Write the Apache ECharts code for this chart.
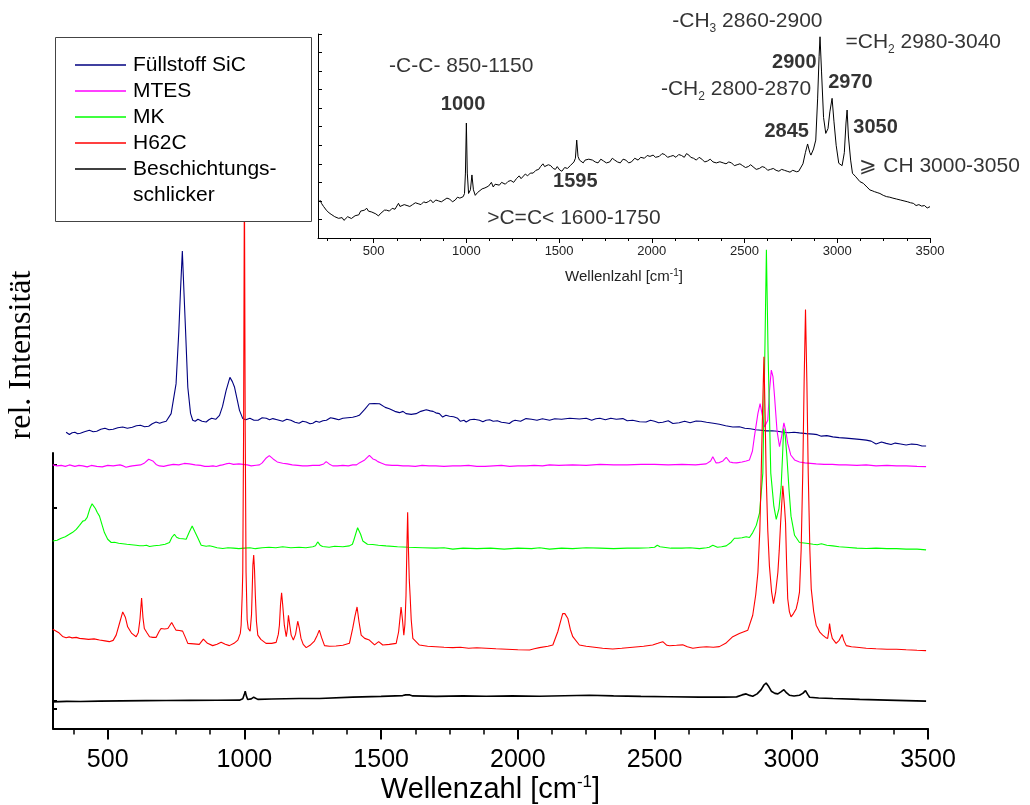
<!DOCTYPE html>
<html><head><meta charset="utf-8">
<script src="https://cdn.jsdelivr.net/npm/echarts@6/dist/echarts.min.js"></script>
<style>html,body{margin:0;padding:0;background:#fff}#c{width:1030px;height:805px}</style>
</head><body><div id="c"></div>
<script>
// ---------------- DATA ----------------
const seriesNames = ['Füllstoff SiC', 'MTES', 'MK', 'H62C', 'Beschichtungsschlicker'];

// main plot: [wavenumber cm^-1, rel. intensity (offset stacked)]
const sicData = [[348,299],[360,296.7],[370,298.5],[380,299],[390,297.5],[400,298],[415,299.5],[433,301],[447,299.5],[460,300],[475,302],[490,303],[505,301.5],[520,302],[537,303.5],[555,304.3],[572,303],[590,304],[605,305.5],[620,306],[635,304.5],[650,305],[663,307.5],[677,309.3],[690,308],[700,309],[714,310],[732,317.7],[750,347.7],[760,400],[766,440],[773,481.7],[779,440],[785,400],[793,344.3],[803,318],[811,311],[820,310],[830,312],[845,310],[860,309.3],[870,311.5],[880,313],[895,312],[909,316],[920,325],[933,341],[947,354.3],[956,350],[964,344.3],[975,330],[982,321],[994,312.7],[1005,311.5],[1020,313],[1035,311],[1050,311],[1065,313.5],[1080,313],[1092,311.5],[1104,312.7],[1120,311.5],[1140,310],[1155,312],[1170,311],[1185,309],[1200,308],[1213,310],[1226,309.3],[1240,307.5],[1250,308],[1262,310],[1274,309],[1287,310.5],[1300,311],[1315,313.5],[1330,312.7],[1345,311.5],[1360,313],[1378,313.5],[1396,314],[1410,315],[1420,316],[1440,322],[1457,327.7],[1475,328],[1494,327.7],[1515,324],[1530,322.7],[1550,320],[1567,318.7],[1580,320],[1591,317.7],[1610,317],[1628,317.7],[1645,320],[1665,321.7],[1680,320.5],[1690,320],[1700,318.5],[1713,317.7],[1725,314.3],[1737,316],[1750,315],[1765,314.5],[1780,313],[1790,310],[1795,308],[1803,311],[1811,309.3],[1825,311.5],[1840,312],[1860,311],[1872,309.5],[1884,311],[1897,311.5],[1910,310],[1925,310.5],[1940,309],[1955,308.5],[1969,307.7],[1980,310],[1990,311],[2010,310],[2030,312.7],[2050,312],[2070,311],[2090,312.5],[2116,311],[2135,312.5],[2160,312],[2190,313],[2225,312.3],[2250,313],[2270,311],[2285,312.5],[2300,313],[2320,311.5],[2340,313],[2360,312],[2384,312.7],[2400,310.5],[2420,311],[2445,309.5],[2469,309.3],[2485,311],[2500,310],[2515,308.5],[2530,309],[2550,310.5],[2567,307.7],[2590,308.5],[2610,310],[2630,308.5],[2652,310.3],[2670,310],[2690,309],[2715,308],[2737,307],[2760,305.5],[2786,304.3],[2810,304.5],[2830,303],[2850,302.5],[2870,301.5],[2890,301],[2908,300.3],[2930,300.5],[2950,300],[2970,299],[2990,298.5],[3010,299],[3030,298.3],[3055,297.5],[3080,297],[3095,296.5],[3110,295],[3130,295.5],[3152,294.3],[3175,293.5],[3200,293],[3220,292.5],[3240,292],[3258,291.5],[3274,291],[3292,290],[3310,287],[3330,289],[3347,287.7],[3365,286.5],[3380,288],[3400,287],[3420,286],[3440,287],[3460,286.5],[3478,285],[3493,285]];

const mtesData = [[299,266],[315,265],[330,265.5],[345,264.5],[360,266],[380,264.5],[395,265.5],[409,265],[425,264],[440,265.5],[460,264.5],[480,264],[500,265.5],[520,265],[545,266],[557,265],[567,263.7],[580,264.5],[590,265],[605,265.5],[620,266],[635,268],[650,271.7],[665,270],[677,266.5],[689,265],[705,264.5],[720,265.5],[740,266.5],[760,266],[780,267.5],[799,267],[820,266],[840,265.5],[855,264.5],[870,264.5],[885,265],[897,264.3],[910,265.5],[920,266],[932,267],[945,267.7],[960,266.5],[980,267],[995,266.5],[1010,266],[1025,265],[1043,265.7],[1055,266],[1065,268],[1080,273],[1091,275.3],[1105,272],[1120,269],[1140,267.7],[1157,267],[1175,266],[1195,265.5],[1213,265],[1230,265],[1250,265.5],[1274,265.5],[1290,267],[1299,269.3],[1310,267],[1323,265],[1340,265],[1360,265.5],[1380,265],[1396,266],[1410,266],[1420,268],[1440,271],[1457,275.7],[1470,272],[1480,271],[1488,269.3],[1500,268],[1518,266],[1540,265.5],[1560,265.5],[1580,265],[1600,265],[1625,264.5],[1650,265.5],[1675,265],[1700,265],[1730,264.5],[1762,265],[1790,265],[1820,265.5],[1850,264.5],[1880,264.5],[1910,265],[1940,265.5],[1970,264.5],[2000,265],[2030,265],[2060,265.5],[2090,265],[2116,266],[2150,265.5],[2200,266],[2250,265.5],[2300,266.5],[2350,266],[2400,266],[2450,266.5],[2500,266.5],[2550,266],[2600,266.5],[2650,266],[2689,267],[2705,270],[2713,274.3],[2725,268],[2737,268.3],[2750,270],[2762,273.7],[2775,269],[2786,268.3],[2800,268],[2820,269],[2835,270],[2847,271],[2858,280],[2865,294.3],[2878,318],[2886,327.7],[2895,315],[2902,304.3],[2908,306],[2914,311],[2920,340],[2927,361.7],[2933,355],[2939,334.3],[2948,300],[2957,284.3],[2965,295],[2973,308.3],[2980,300],[2987,287.7],[2998,276],[3012,271],[3030,269],[3050,268],[3070,267.5],[3091,267],[3120,266.5],[3150,266.5],[3175,266],[3200,266],[3240,265.5],[3274,266],[3310,265],[3350,265.5],[3385,265],[3420,265],[3460,264.5],[3493,264.3]];

const mkData = [[299,189.3],[315,190],[330,192],[345,193.5],[360,196],[372,198],[385,201],[397,205],[409,209.3],[417,210],[425,213],[435,222],[443,226.7],[455,222],[462,218],[470,214.3],[480,205],[488,197.7],[500,191],[513,187.7],[525,188],[540,187],[555,186.5],[570,186],[587,185.5],[604,185],[617,184.5],[630,184.5],[642,185],[653,183.7],[670,184.5],[690,185],[710,186],[726,187.7],[735,193],[744,196],[752,193],[762,191.7],[775,191.5],[787,191],[798,198],[809,204.3],[818,199],[829,192.7],[842,185],[860,184],[872,184.5],[884,183.7],[900,182.5],[921,181.7],[940,182.5],[960,182],[980,181.5],[1000,182],[1020,182.5],[1040,181.5],[1065,182.5],[1090,183],[1115,182.5],[1140,183.5],[1170,182.5],[1200,183],[1225,182.5],[1250,183.5],[1260,184.5],[1268,188.3],[1277,185],[1286,183.7],[1310,183],[1330,184],[1360,183.5],[1384,184.3],[1395,186],[1400,190],[1414,202.7],[1425,196],[1433,189.3],[1450,186],[1469,185.7],[1490,185],[1518,184.3],[1560,183.5],[1600,183],[1650,182.5],[1700,182],[1730,182.5],[1762,181],[1800,182],[1850,181.5],[1900,182],[1950,181],[2000,182],[2050,181.5],[2080,182.5],[2116,181],[2160,182],[2200,181.5],[2250,182.5],[2300,182],[2350,181.5],[2400,182],[2440,182],[2480,182.5],[2500,183],[2510,185],[2520,183.5],[2525,182.5],[2560,182],[2600,182],[2630,182.5],[2664,181.5],[2690,182.5],[2700,183],[2713,185],[2730,183],[2745,183.5],[2762,184.3],[2780,188],[2792,192],[2805,192],[2820,192.5],[2835,193.5],[2847,192.7],[2859,197.7],[2872,205],[2884,217.7],[2896,257.7],[2904,391],[2909,483],[2915,381],[2925,257.7],[2936,225],[2945,211],[2955,222],[2963,244.3],[2968,275],[2972,302.7],[2978,295],[2984,274.3],[2992,240],[2999,214.3],[3012,195],[3030,187.7],[3055,187],[3080,186],[3095,185.5],[3110,186.5],[3130,185],[3152,184.3],[3175,183.5],[3200,183],[3240,182],[3274,181.7],[3310,182],[3350,181.5],[3385,181.5],[3420,181],[3460,181],[3493,180.3]];

const h62cData = [[299,100.3],[320,97],[335,93],[348,91.7],[360,92.5],[370,91.5],[385,92],[397,91],[415,90.5],[430,90],[450,90.5],[470,89.3],[490,88.5],[506,87.7],[520,89],[531,94.3],[543,106],[555,117.7],[565,112],[573,102.7],[588,96],[604,92.7],[612,97],[618,110],[624,131.7],[629,112],[634,101],[643,97],[653,92.7],[665,92],[677,92],[688,98],[695,101],[708,100.5],[720,101],[734,107],[742,103],[750,99.3],[762,99],[774,98.3],[784,92],[793,86],[815,85.5],[835,85],[850,90.3],[865,86],[884,83.7],[900,85],[915,87],[930,85],[945,83.7],[962,86],[976,89.3],[985,96],[988,104.3],[992,135],[994,157.7],[997,300],[1000,560],[1003,300],[1006,157.7],[1010,110],[1014,101],[1021,98.3],[1026,115],[1028,134.3],[1031,165],[1034,175],[1037,160],[1040,134.3],[1044,108],[1049,94.3],[1060,90],[1079,86],[1100,86],[1116,87],[1124,95],[1128,104.3],[1132,125],[1136,137],[1140,125],[1146,104.3],[1153,92.7],[1157,100],[1161,114.3],[1166,104],[1171,94.3],[1179,89.3],[1187,95],[1195,108.3],[1201,101],[1207,91],[1215,85],[1226,81.7],[1240,84],[1256,88.3],[1266,94],[1274,99.3],[1282,92],[1293,83.7],[1311,83],[1335,83.3],[1360,84],[1384,86],[1396,101],[1404,113],[1412,122.7],[1419,108],[1427,94.3],[1440,91],[1457,89.3],[1476,84.5],[1491,87.7],[1506,84.3],[1530,85],[1555,86],[1564,97.7],[1573,122.7],[1578,110],[1583,94.3],[1587,105],[1591,134.3],[1594,180],[1597,218.3],[1600,180],[1603,150],[1606,134.3],[1610,110],[1616,91],[1640,84.3],[1670,83],[1700,82.5],[1730,82],[1762,81.7],[1790,82],[1820,81],[1850,81.5],[1884,81],[1920,80.5],[1960,80],[2000,79.5],[2043,79.3],[2060,80.5],[2079,81.7],[2110,83],[2128,84.3],[2146,97.7],[2158,110],[2164,116],[2172,116],[2183,111],[2192,100],[2201,92.7],[2225,84.3],[2250,83],[2280,82],[2310,81],[2347,80.3],[2380,81],[2420,82],[2460,83],[2493,84.3],[2512,86],[2530,87.7],[2545,84],[2555,83.5],[2580,84],[2603,84.5],[2620,82.5],[2640,81],[2665,82],[2690,82.5],[2715,82],[2737,82.7],[2760,86],[2786,92.7],[2810,96],[2841,99.3],[2859,114.3],[2870,135],[2878,157.7],[2885,200],[2890,257.7],[2895,320],[2900,375],[2904,320],[2908,257.7],[2914,200],[2920,164.3],[2928,138],[2935,126],[2943,138],[2951,157.7],[2956,180],[2961,207.7],[2969,245],[2975,225],[2979,207.7],[2983,165],[2987,131],[2993,118],[2999,112.7],[3008,116],[3018,121],[3024,128],[3030,137.7],[3036,180],[3042,257.7],[3047,350],[3052,422.7],[3057,350],[3062,257.7],[3068,180],[3073,141],[3082,118],[3091,104.3],[3105,97],[3115,94.3],[3125,92],[3133,91],[3137,98],[3140,106],[3144,98],[3150,91],[3164,86],[3175,89],[3186,95],[3192,89],[3201,83.7],[3220,82.5],[3240,82],[3274,81],[3310,80.5],[3350,80],[3385,80],[3420,79.5],[3460,79],[3493,78.7]];

const beschData = [[299,27],[350,27.5],[400,27.3],[470,27.7],[550,28],[640,28.2],[714,28.3],[800,28.5],[900,28.6],[982,28.7],[994,30],[1000,35],[1003,37.7],[1007,33],[1012,29.3],[1025,30],[1034,31.7],[1040,30],[1049,29.5],[1100,29.8],[1200,30.4],[1274,30.3],[1396,31.7],[1500,32.5],[1579,33.3],[1590,34],[1597,36],[1605,34],[1616,33],[1700,32.5],[1800,33],[1884,32.7],[1980,33],[2079,32.7],[2170,33.2],[2262,33.7],[2350,33],[2450,32.5],[2550,32.2],[2664,31.7],[2750,31.7],[2800,32],[2820,34],[2835,35],[2848,33.5],[2859,32.7],[2875,35],[2890,39.3],[2900,44],[2908,46],[2916,43],[2927,37.7],[2940,35.5],[2951,35],[2962,37],[2973,39.3],[2983,36],[2993,33.7],[3010,32.8],[3030,33.7],[3042,35.5],[3052,38.3],[3060,34.5],[3067,31.7],[3100,30.8],[3152,30.3],[3250,29.5],[3350,28.7],[3420,28.2],[3493,27.7]];

// inset spectrum (Beschichtungsschlicker, enlarged)
const insetData = [[210,2.05],[220,1.85],[230,1.7],[245,1.5],[260,1.35],[275,1.25],[290,1.15],[300,1.2],[311,1.06],[320,1.02],[330,1.1],[340,0.95],[350,1.0],[360,1.15],[370,1.25],[380,1.05],[390,1.1],[400,1.2],[410,1.3],[420,1.25],[430,1.45],[440,1.35],[450,1.5],[463,1.6],[472,1.45],[480,1.5],[490,1.4],[500,1.45],[512,1.3],[526,1.19],[535,1.3],[545,1.35],[558,1.5],[570,1.5],[585,1.45],[600,1.6],[615,1.55],[625,1.65],[634,1.87],[642,1.7],[650,1.65],[665,1.8],[680,1.75],[695,1.7],[710,1.8],[725,1.9],[740,1.85],[755,1.8],[770,1.95],[782,1.9],[795,1.96],[808,2.05],[820,1.9],[835,2.05],[850,2.0],[865,1.95],[880,2.05],[895,2.15],[910,2.1],[925,1.95],[940,2.05],[952,2.2],[965,2.15],[975,2.05],[983,2.23],[990,2.4],[995,3.5],[1000,6.2],[1005,3.5],[1012,2.4],[1022,2.6],[1030,3.4],[1038,2.6],[1048,2.3],[1060,2.45],[1070,2.5],[1085,2.65],[1100,2.7],[1110,2.6],[1120,2.8],[1135,3.0],[1145,2.75],[1155,2.9],[1165,2.95],[1178,2.85],[1190,3.0],[1200,3.05],[1210,2.9],[1225,3.05],[1240,3.1],[1255,3.0],[1270,3.2],[1285,3.35],[1295,3.2],[1305,3.3],[1318,3.45],[1330,3.35],[1345,3.5],[1360,3.5],[1375,3.65],[1390,3.7],[1400,3.85],[1413,4.0],[1422,3.85],[1430,3.8],[1442,3.95],[1455,3.9],[1468,3.75],[1480,3.7],[1490,3.85],[1503,3.67],[1515,3.6],[1530,3.8],[1545,3.75],[1560,3.9],[1570,3.95],[1580,4.1],[1588,4.3],[1595,5.28],[1602,4.4],[1610,4.2],[1620,4.3],[1630,4.05],[1640,4.2],[1647,4.1],[1660,4.25],[1670,4.15],[1680,4.2],[1695,4.1],[1710,4.05],[1725,4.25],[1740,4.15],[1755,4.05],[1773,4.1],[1787,4.3],[1800,4.2],[1815,4.1],[1830,4.05],[1845,4.25],[1860,4.2],[1875,4.05],[1890,4.1],[1908,4.3],[1926,4.2],[1940,4.35],[1960,4.3],[1975,4.45],[1990,4.4],[2007,4.47],[2020,4.35],[2040,4.4],[2055,4.55],[2070,4.5],[2085,4.35],[2100,4.4],[2115,4.45],[2130,4.35],[2145,4.5],[2160,4.45],[2175,4.35],[2187,4.55],[2200,4.47],[2210,4.35],[2225,4.3],[2240,4.2],[2255,4.35],[2270,4.25],[2285,4.1],[2300,4.15],[2315,4.25],[2330,4.1],[2348,4.05],[2367,4.11],[2385,4.05],[2400,4.0],[2415,4.1],[2430,4.05],[2445,3.9],[2460,3.95],[2475,4.0],[2490,3.9],[2505,3.8],[2520,3.85],[2533,3.95],[2546,3.84],[2563,3.7],[2580,3.75],[2595,3.85],[2610,3.8],[2625,3.65],[2640,3.7],[2655,3.75],[2670,3.65],[2685,3.6],[2700,3.7],[2715,3.65],[2730,3.6],[2745,3.55],[2760,3.65],[2770,3.55],[2781,3.57],[2792,3.6],[2800,3.7],[2815,4.0],[2828,4.6],[2840,5.07],[2852,4.6],[2858,4.47],[2872,4.8],[2884,5.28],[2894,7.5],[2902,9.8],[2907,10.85],[2915,9.0],[2926,6.5],[2938,5.64],[2950,5.9],[2960,6.8],[2972,7.53],[2982,6.3],[2994,5.0],[3008,4.03],[3026,3.9],[3038,4.6],[3047,6.2],[3053,6.9],[3060,5.5],[3072,4.2],[3082,3.49],[3092,3.4],[3100,3.3],[3110,3.2],[3122,3.04],[3132,3.1],[3140,2.95],[3150,2.85],[3160,2.75],[3168,2.7],[3176,2.59],[3188,2.55],[3200,2.5],[3215,2.45],[3230,2.4],[3248,2.3],[3266,2.23],[3283,2.2],[3300,2.15],[3320,2.1],[3340,2.05],[3360,2.0],[3380,1.95],[3395,1.9],[3410,1.87],[3425,1.75],[3440,1.8],[3455,1.72],[3470,1.75],[3485,1.62],[3500,1.69]];

// tick values
const mainMajorTicks = [500, 1000, 1500, 2000, 2500, 3000, 3500];
const mainMinorTicks = [375, 625, 750, 875, 1125, 1250, 1375, 1625, 1750, 1875, 2125, 2250, 2375, 2625, 2750, 2875, 3125, 3250, 3375];
const insetMinorTicks = [250, 375, 625, 750, 875, 1125, 1250, 1375, 1625, 1750, 1875, 2125, 2250, 2375, 2625, 2750, 2875, 3125, 3250, 3375];
const mainYTicks = [20, 28, 223, 266];

// inset annotations: text and anchor in inset data coordinates
const insetNotes = [
  { text: '{n|-C-C- 850-1150}', at: [586, 9.22], align: 'left' },
  { text: '{b|1000}', at: [985, 7.17], align: 'center' },
  { text: '{b|1595}', at: [1590, 3.03], align: 'center' },
  { text: '{n|>C=C< 1600-1750}', at: [1115, 1.06], align: 'left' },
  { text: '{n|-CH}{s|3}{n| 2860-2900}', at: [2113, 11.66], align: 'left' },
  { text: '{n|=CH}{s|2}{n| 2980-3040}', at: [3047, 10.51], align: 'left' },
  { text: '{b|2900}', at: [2771, 9.42], align: 'center' },
  { text: '{n|-CH}{s|2}{n| 2800-2870}', at: [2052, 7.98], align: 'left' },
  { text: '{b|2970}', at: [3074, 8.37], align: 'center' },
  { text: '{b|2845}', at: [2730, 5.73], align: 'center' },
  { text: '{b|3050}', at: [3209, 5.95], align: 'center' },
  { text: '{n|⩾ CH 3000-3050}', at: [3122, 3.84], align: 'left' }
];

// ---------------- CHART ----------------
const FONT = '"Liberation Sans", Arial, sans-serif';
const colors = ['#000080', '#ff00ff', '#00ff00', '#ff0000', '#000000'];
const mainSets = [sicData, mtesData, mkData, h62cData, beschData];

const chart = echarts.init(document.getElementById('c'), null, { renderer: 'canvas' });

const noteRich = {
  n: { fontSize: 21, fontFamily: FONT, color: '#000', lineHeight: 26 },
  b: { fontSize: 20, fontFamily: FONT, fontWeight: 'bold', color: '#000', lineHeight: 26 },
  s: { fontSize: 12, fontFamily: FONT, color: '#000', lineHeight: 6, verticalAlign: 'bottom' }
};

const plainNum = v => String(v);

const series = mainSets.map((d, i) => ({
  name: seriesNames[i],
  type: 'line',
  xAxisIndex: 0, yAxisIndex: 0,
  data: d,
  symbol: 'none', showSymbol: false,
  clip: false,
  color: colors[i],
  lineStyle: { width: i === 4 ? 1.6 : 1.1, color: colors[i] }
}));

series.push({
  name: 'inset', type: 'line', xAxisIndex: 2, yAxisIndex: 1,
  data: insetData, symbol: 'none', showSymbol: false, clip: false,
  lineStyle: { width: 1, color: '#000' }, color: '#000'
});

series.push({
  name: 'notes', type: 'scatter', xAxisIndex: 2, yAxisIndex: 1,
  symbolSize: 1, clip: false, silent: true,
  itemStyle: { color: 'rgba(0,0,0,0)' },
  data: insetNotes.map(n => ({
    value: n.at,
    label: {
      show: true, position: [0, 0], align: n.align, verticalAlign: 'middle',
      color: '#000', formatter: n.text, rich: noteRich
    }
  }))
});

const option = {
  animation: false,
  backgroundColor: '#fff',
  grid: [
    { left: 53, right: 102, top: 453, bottom: 74 },
    { left: 318, right: 100, top: 34, bottom: 567 }
  ],
  xAxis: [
    { type: 'value', gridIndex: 0, position: 'bottom', min: 300, max: 3500,
      axisLine: { show: true, lineStyle: { color: '#000', width: 2 } },
      axisTick: { show: true, customValues: mainMajorTicks, length: 11, lineStyle: { color: '#000', width: 2 } },
      axisLabel: { show: true, customValues: mainMajorTicks, formatter: plainNum, fontSize: 25, fontFamily: FONT, color: '#000', margin: 19 },
      splitLine: { show: false },
      name: '{a|Wellenzahl [cm}{s|-1}{a|]}', nameLocation: 'middle', nameGap: 38,
      nameTextStyle: { rich: {
        a: { fontSize: 29, fontFamily: FONT, color: '#000', lineHeight: 32 },
        s: { fontSize: 17, fontFamily: FONT, color: '#000', lineHeight: 14, verticalAlign: 'top' }
      } }
    },
    { type: 'value', gridIndex: 0, position: 'bottom', min: 300, max: 3500,
      axisLine: { show: false },
      axisTick: { show: true, customValues: mainMinorTicks, length: 6, lineStyle: { color: '#000', width: 1.5 } },
      axisLabel: { show: false }, splitLine: { show: false }
    },
    { type: 'value', gridIndex: 1, position: 'bottom', min: 200, max: 3500,
      axisLine: { show: true, lineStyle: { color: '#000', width: 1 } },
      axisTick: { show: true, customValues: mainMajorTicks, length: 5, lineStyle: { color: '#000', width: 1 } },
      axisLabel: { show: true, customValues: mainMajorTicks, formatter: plainNum, fontSize: 13, fontFamily: FONT, color: '#222', margin: 7 },
      splitLine: { show: false },
      name: '{a|Wellenlzahl [cm}{s|-1}{a|]}', nameLocation: 'middle', nameGap: 30,
      nameTextStyle: { rich: {
        a: { fontSize: 15, fontFamily: FONT, color: '#222', lineHeight: 18 },
        s: { fontSize: 10, fontFamily: FONT, color: '#222', lineHeight: 8, verticalAlign: 'top' }
      } }
    },
    { type: 'value', gridIndex: 1, position: 'bottom', min: 200, max: 3500,
      axisLine: { show: false },
      axisTick: { show: true, customValues: insetMinorTicks, length: 3, lineStyle: { color: '#000', width: 1 } },
      axisLabel: { show: false }, splitLine: { show: false }
    }
  ],
  yAxis: [
    { type: 'value', gridIndex: 0, min: 0, max: 278,
      axisLine: { show: true, lineStyle: { color: '#000', width: 2 } },
      axisTick: { show: true, inside: true, customValues: mainYTicks, length: 4, lineStyle: { color: '#000', width: 2 } },
      axisLabel: { show: false }, splitLine: { show: false }
    },
    { type: 'value', gridIndex: 1, min: 0, max: 11, interval: 1,
      axisLine: { show: true, lineStyle: { color: '#000', width: 1 } },
      axisTick: { show: true, inside: true, length: 4, lineStyle: { color: '#000', width: 1 } },
      axisLabel: { show: false }, splitLine: { show: false }
    }
  ],
  legend: {
    data: seriesNames,
    orient: 'vertical',
    left: 75, top: 52,
    padding: 0,
    icon: 'rect',
    itemWidth: 51, itemHeight: 1.5, itemGap: 0,
    z: 10,
    formatter: name => name === 'Beschichtungsschlicker' ? 'Beschichtungs-' : name,
    textStyle: { fontSize: 21, fontFamily: FONT, color: '#000', lineHeight: 26, padding: [0, 0, 0, 2] },
    selectedMode: false
  },
  graphic: [
    { type: 'rect', z: 8, shape: { x: 55.5, y: 37.5, width: 256, height: 184 },
      style: { fill: '#fff', stroke: '#444', lineWidth: 1 } },
    { type: 'text', z: 12, x: 133, y: 195,
      style: { text: 'schlicker', fontSize: 21, fontFamily: FONT, fill: '#000',
               align: 'left', verticalAlign: 'middle', textAlign: 'left', textVerticalAlign: 'middle' } },
    { type: 'text', z: 12, x: 22, y: 355, rotation: Math.PI / 2,
      style: { text: 'rel. Intensität', fontSize: 32, fontFamily: '"Liberation Serif", "Times New Roman", serif', fill: '#000',
               align: 'center', verticalAlign: 'middle', textAlign: 'center', textVerticalAlign: 'middle' } }
  ],
  series: series
};

chart.setOption(option);
</script></body></html>
